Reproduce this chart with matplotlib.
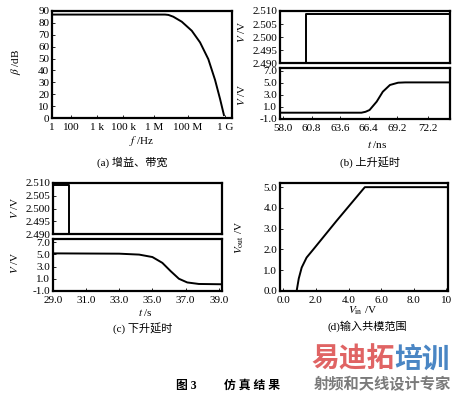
import matplotlib
matplotlib.use("Agg")
import matplotlib.pyplot as plt
import numpy as np

plt.rcParams['font.family'] = ['Liberation Serif', 'Noto Sans CJK SC', 'DejaVu Sans']
plt.rcParams['mathtext.fontset'] = 'stix'

W, H = 463, 399

# (a) gain vs frequency, x in label-position units
freq_labels = ['1', '100', '1 k', '100 k', '1 M', '100 M', '1 G']
freq_tick_pos = [0, 0.99, 2.34, 3.69, 5.3, 7.06, 8.98]
gain_x = [0, 5.87, 6.05, 6.30, 6.74, 7.26, 7.69, 8.12, 8.47, 8.73, 8.93]
gain_db = [87, 87, 86.7, 85.2, 81, 73.4, 63.6, 49.5, 32, 16, 2.5]

# (b) rise delay
b_t_in = [57.7, 60.25, 60.25, 74.4]
b_v_in = [2.480, 2.480, 2.5088, 2.5088]
b_t_out = [57.7, 65.7, 66.1, 66.5, 67.2, 67.8, 68.5, 69.3, 70.0, 74.4]
b_v_out = [0.05, 0.05, 0.2, 0.5, 1.9, 3.55, 4.67, 5.05, 5.1, 5.1]
b_ticks = [58.0, 60.8, 63.6, 66.4, 69.2, 72.2]

# (c) fall delay
c_t_in = [29.0, 29.95, 29.95, 39.2]
c_v_in = [2.5092, 2.5092, 2.480, 2.480]
c_t_out = [29.0, 33.0, 34.2, 35.0, 35.6, 36.1, 36.6, 37.1, 37.8, 39.2]
c_v_out = [5.15, 5.1, 4.95, 4.55, 3.6, 2.25, 1.0, 0.4, 0.15, 0.1]
c_ticks = [29.0, 31.0, 33.0, 35.0, 37.0, 39.0]

# (d) input common-mode range
d_vin = [-0.2, 0.82, 0.95, 1.13, 1.43, 1.84, 3.27, 5.0, 10.1]
d_vout = [0.0, 0.0, 0.6, 1.13, 1.61, 2.0, 3.38, 5.0, 5.0]

fig = plt.figure(figsize=(W / 100, H / 100), dpi=100)


def box(l, t, r, b):
    ax = fig.add_axes([l / W, 1 - b / H, (r - l) / W, (b - t) / H])
    for s in ax.spines.values():
        s.set_linewidth(1.6)
    ax.tick_params(direction='in', length=2, width=0.6, labelsize=8, pad=2)
    ax.tick_params(axis='x', pad=3.5)
    return ax


def txt(x, y, s, **kw):
    kw.setdefault('fontsize', 8)
    fig.text(x / W, 1 - y / H, s, ha='center', va='center', **kw)


lw = 1.4

# (a)
ax = box(52, 11, 232, 118)
ax.plot(gain_x, gain_db, color='k', lw=lw)
ax.set_xlim(0, 9.35)
ax.set_ylim(0, 90)
ax.set_yticks(range(0, 91, 10))
ax.set_xticks(freq_tick_pos)
ax.set_xticklabels(freq_labels)
txt(16, 62, r'$\beta$ /dB', rotation=90)
txt(142, 141, r'$f$ /Hz')
txt(132, 162, '(a) 增益、带宽')

# (b)
ax = box(280, 11, 450, 63)
ax.plot(b_t_in, b_v_in, color='k', lw=lw)
ax.set_xlim(57.7, 74.4)
ax.set_ylim(2.490, 2.510)
ax.set_yticks([2.490, 2.495, 2.500, 2.505, 2.510])
ax.set_yticklabels(['%.3f' % v for v in ax.get_yticks()])
ax.set_xticks([])
txt(242, 32, r'$V$ /V', rotation=90)

ax = box(280, 68, 450, 119)
ax.plot(b_t_out, b_v_out, color='k', lw=lw)
ax.set_xlim(57.7, 74.4)
ax.set_ylim(-1.0, 7.5)
ax.set_yticks([-1, 1, 3, 5, 7])
ax.set_yticklabels(['%.1f' % v for v in [-1, 1, 3, 5, 7]])
ax.set_xticks(b_ticks)
ax.set_xticklabels(['%.1f' % v for v in b_ticks])
txt(242, 95, r'$V$ /V', rotation=90)
txt(377, 144, r'$t$ /ns')
txt(370, 162, '(b) 上升延时')

# (c)
ax = box(53, 183, 222, 234)
ax.plot(c_t_in, c_v_in, color='k', lw=lw)
ax.set_xlim(29.0, 39.2)
ax.set_ylim(2.490, 2.510)
ax.set_yticks([2.490, 2.495, 2.500, 2.505, 2.510])
ax.set_yticklabels(['%.3f' % v for v in ax.get_yticks()])
ax.set_xticks([])
txt(15, 208, r'$V$ /V', rotation=90)

ax = box(53, 239, 222, 291)
ax.plot(c_t_out, c_v_out, color='k', lw=lw)
ax.set_xlim(29.0, 39.2)
ax.set_ylim(-1.0, 7.5)
ax.set_yticks([-1, 1, 3, 5, 7])
ax.set_yticklabels(['%.1f' % v for v in [-1, 1, 3, 5, 7]])
ax.set_xticks(c_ticks)
ax.set_xticklabels(['%.1f' % v for v in c_ticks])
txt(15, 263, r'$V$ /V', rotation=90)
txt(145, 313, r'$t$ /s')
txt(143, 328, '(c) 下升延时')

# (d)
ax = box(280, 183, 448, 291)
ax.plot(d_vin, d_vout, color='k', lw=lw)
ax.set_xlim(-0.2, 10.1)
ax.set_ylim(0, 5.2)
ax.set_yticks([0, 1, 2, 3, 4, 5])
ax.set_yticklabels(['%.1f' % v for v in range(6)])
ax.set_xticks([0, 2, 4, 6, 8, 10])
ax.set_xticklabels(['0.0', '2.0', '4.0', '6.0', '8.0', '10'])
txt(240, 237, r'$V_{\rm out}$ /V', rotation=90)
txt(363, 311, r'$V_{\rm in}$ /V')
txt(367, 326, '(d)输入共模范围')

# figure caption and watermark
txt(186, 386, '图 3', fontsize=8.5, fontweight='bold')
txt(252, 386, '仿 真 结 果', fontsize=8.5, fontweight='bold')
txt(353, 360, '易迪拓', fontsize=20, fontweight='bold', color='#e06464',
    family=['Noto Sans CJK SC'])
txt(422, 360, '培训', fontsize=20, fontweight='bold', color='#4a86c4',
    family=['Noto Sans CJK SC'])
txt(382, 384, '射频和天线设计专家', fontsize=11, fontweight='bold', color='#7a7a7a',
    family=['Noto Sans CJK SC'])

fig.savefig('out.png', dpi=100)
